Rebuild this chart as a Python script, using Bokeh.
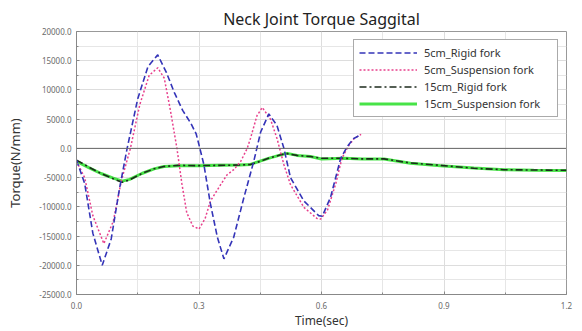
from bokeh.plotting import figure
from bokeh.models import (FixedTicker, PrintfTickFormatter, Range1d, Span, Legend,
                          LegendItem)
from bokeh.embed import file_html
from bokeh.resources import INLINE

# ---- data ----
t_5cm_rigid = [0.0, 0.02, 0.04, 0.063, 0.085, 0.105, 0.124, 0.15, 0.175, 0.199, 0.22,
               0.24, 0.26, 0.28, 0.293, 0.30, 0.312, 0.328, 0.345, 0.361, 0.385, 0.41,
               0.434, 0.451, 0.471, 0.491, 0.508, 0.524, 0.557, 0.593, 0.602, 0.622,
               0.647, 0.663, 0.679, 0.696]
v_5cm_rigid = [-2000, -6000, -14500, -20000, -15500, -7000, 0, 8500, 14000, 16000, 13000,
               9500, 6500, 4300, 2500, 600, -2800, -9500, -15200, -18900, -15200, -8400,
               -2250, 2800, 5900, 3900, 0, -5000, -9000, -11500, -11600, -8400,
               -1700, 300, 1700, 2300]

t_5cm_susp = [0.0, 0.02, 0.04, 0.067, 0.09, 0.11, 0.132, 0.155, 0.178, 0.199, 0.215,
              0.23, 0.246, 0.258, 0.27, 0.285, 0.30, 0.315, 0.328, 0.353, 0.369, 0.385,
              0.402, 0.418, 0.426, 0.442, 0.455, 0.475, 0.491, 0.508, 0.524, 0.557,
              0.589, 0.598, 0.615, 0.635, 0.65, 0.665, 0.68, 0.697]
v_5cm_susp = [-2200, -5000, -11500, -16300, -12500, -5500, 0, 7500, 12500, 13800, 12000,
              6500, 0, -6000, -11000, -13300, -13800, -12000, -9000, -6200, -4500, -3650,
              -2250, 0, 1700, 5600, 7000, 5000, 1700, -2800, -6200, -10100,
              -12000, -12100, -10500, -6000, -1700, 300, 1700, 2400]

t_15cm = [0.0, 0.03, 0.06, 0.09, 0.112, 0.13, 0.16, 0.19, 0.214, 0.25, 0.30, 0.35, 0.40,
          0.426, 0.442, 0.47, 0.50, 0.516, 0.54, 0.573, 0.60, 0.655, 0.70, 0.753, 0.818,
          0.891, 0.973, 1.047, 1.12, 1.2]
v_15cm_rigid = [-2000, -3200, -4300, -5200, -5800, -5400, -4300, -3500, -3100, -2900,
                -2950, -2900, -2850, -2750, -2400, -1700, -1100, -900, -1200, -1400,
                -1700, -1700, -1800, -1800, -2500, -2900, -3400, -3650, -3700, -3750]
v_15cm_susp = [-2200, -3300, -4300, -5100, -5600, -5300, -4300, -3500, -3100, -2950,
               -2950, -2900, -2850, -2750, -2350, -1700, -1100, -850, -1200, -1400,
               -1800, -1700, -1800, -1800, -2550, -2950, -3350, -3650, -3750, -3800]

series_names = ["5cm_Rigid fork", "5cm_Suspension fork", "15cm_Rigid fork",
                "15cm_Suspension fork"]

x_major = [0.0, 0.3, 0.6, 0.9, 1.2]
x_minor = [0.15, 0.45, 0.75, 1.05]
y_major = [-25000, -20000, -15000, -10000, -5000, 0, 5000, 10000, 15000, 20000]
y_minor = [-22500, -17500, -12500, -7500, -2500, 2500, 7500, 12500, 17500]

FONT = "Noto Sans"

p = figure(width=574, height=331, output_backend="svg", toolbar_location=None,
           x_range=Range1d(0, 1.2), y_range=Range1d(-25000, 20000),
           min_border_left=76, min_border_right=8, min_border_top=31,
           min_border_bottom=33,
           title="Neck Joint Torque Saggital")
p.title.align = "center"
p.title.text_font = FONT
p.title.text_font_size = "16px"
p.title.text_font_style = "normal"
p.title.text_color = "#222222"
p.title.standoff = 4
p.outline_line_color = "#999999"
p.background_fill_color = "white"
p.border_fill_color = "white"

p.xaxis.ticker = FixedTicker(ticks=x_major, minor_ticks=x_minor)
p.yaxis.ticker = FixedTicker(ticks=y_major, minor_ticks=y_minor)
p.xaxis.formatter = PrintfTickFormatter(format="%.1f")
p.yaxis.formatter = PrintfTickFormatter(format="%.1f")
for ax in (p.xaxis, p.yaxis):
    ax.major_label_text_font = FONT
    ax.major_label_text_font_size = "8px"
    ax.major_label_text_color = "#6a6a6a"
    ax.axis_line_color = "#888888"
    ax.major_tick_line_color = "#888888"
    ax.minor_tick_line_color = "#888888"
    ax.major_tick_in = 3
    ax.major_tick_out = 0
    ax.minor_tick_in = 2
    ax.minor_tick_out = 0
    ax.axis_label_text_font = FONT
    ax.axis_label_text_font_style = "normal"
    ax.axis_label_text_color = "#333333"
p.xaxis.axis_label = "Time(sec)"
p.yaxis.axis_label = "Torque(N/mm)"
p.xaxis.axis_label_text_font_size = "12px"
p.yaxis.axis_label_text_font_size = "13px"
p.xaxis.major_label_standoff = 7
p.xaxis.axis_label_standoff = 0
p.yaxis.major_label_standoff = 5
p.yaxis.axis_label_standoff = 12

for g in (p.xgrid, p.ygrid):
    g.grid_line_color = "#dddddd"
    g.minor_grid_line_color = "#e6e6e6"

p.add_layout(Span(location=0, dimension="width", line_color="#666666", line_width=1))

r4 = p.line(t_15cm, v_15cm_susp, line_color="#33e033", line_width=3, line_alpha=0.9)
r3 = p.line(t_15cm, v_15cm_rigid, line_color="#1c2a1c", line_width=1.6,
            line_dash="7 3 2 3")
r2 = p.line(t_5cm_susp, v_5cm_susp, line_color="#e8408c", line_width=1.5,
            line_dash="2 2")
r1 = p.line(t_5cm_rigid, v_5cm_rigid, line_color="#3434b8", line_width=1.6,
            line_dash="6 3")

legend = Legend(items=[LegendItem(label=series_names[0], renderers=[r1]),
                       LegendItem(label=series_names[1], renderers=[r2]),
                       LegendItem(label=series_names[2], renderers=[r3]),
                       LegendItem(label=series_names[3], renderers=[r4])],
                location="top_right")
legend.label_text_font = FONT
legend.label_text_font_size = "11px"
legend.label_text_color = "#333333"
legend.glyph_width = 58
legend.glyph_height = 13
legend.label_height = 13
legend.label_width = 128
legend.spacing = 2
legend.padding = 5
legend.margin = 8
legend.label_standoff = 7
legend.border_line_color = "#555555"
legend.background_fill_alpha = 1
p.add_layout(legend)

open("out.html", "w").write(file_html(p, INLINE))
